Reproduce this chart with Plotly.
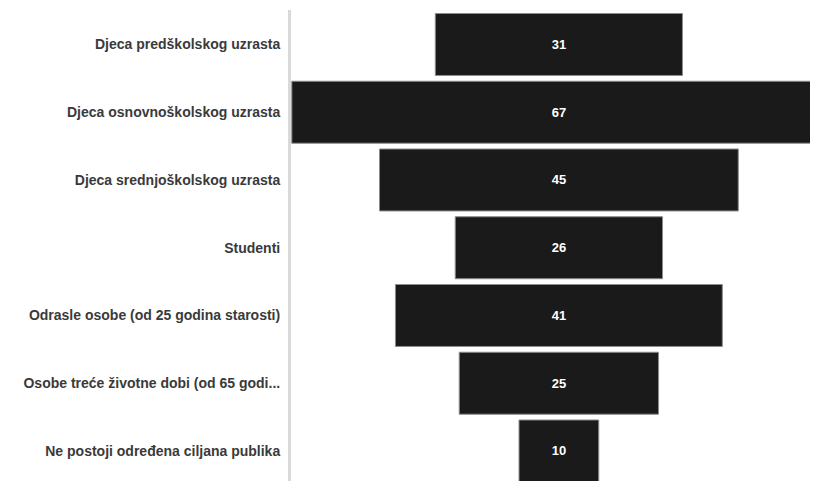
import plotly.graph_objects as go

categories = [
    "Djeca predškolskog uzrasta",
    "Djeca osnovnoškolskog uzrasta",
    "Djeca srednjoškolskog uzrasta",
    "Studenti",
    "Odrasle osobe (od 25 godina starosti)",
    "Osobe treće životne dobi (od 65 godi...",
    "Ne postoji određena ciljana publika",
]
values = [31, 67, 45, 26, 41, 25, 10]

fig = go.Figure(go.Funnel(
    y=categories,
    x=values,
    textinfo="value",
    textposition="inside",
    insidetextfont=dict(family="Liberation Sans", size=13, color="#ffffff", weight="bold"),
    marker=dict(color="#1a1a1a", line=dict(color="#8c8c8c", width=1)),
    connector=dict(visible=False),
    width=0.915,
))

fig.update_layout(
    width=810, height=473,
    margin=dict(l=283, r=0, t=2, b=0),
    paper_bgcolor="white", plot_bgcolor="white",
    showlegend=False,
    xaxis=dict(range=[-33.6, 32.5], visible=False, showgrid=False, zeroline=False),
    yaxis=dict(
        range=[6.443, -0.509], autorange=False,
        showline=True, linecolor="#d9d9d9", linewidth=3,
        showgrid=False, ticks="", ticklabelstandoff=5,
        tickfont=dict(family="Liberation Sans", size=14, color="#3a3a3a", weight="bold"),
    ),
)

fig.write_html("out.html")
